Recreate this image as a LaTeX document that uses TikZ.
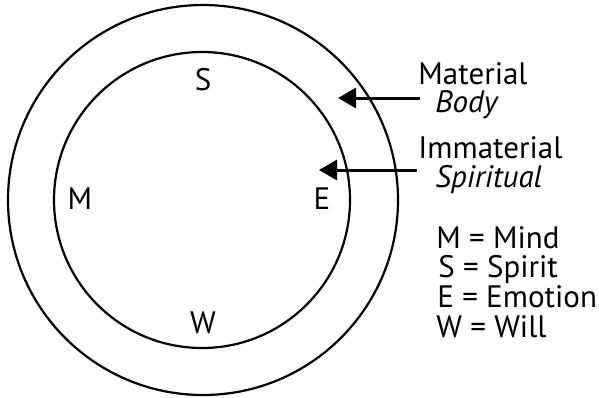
\documentclass[tikz,border=0pt]{standalone}
\usepackage{fontspec}
\setmainfont{PT Sans}
\usetikzlibrary{arrows.meta}
\begin{document}
\begin{tikzpicture}[x=0.5pt,y=-0.5pt]
	\tikzstyle{every node}+=[inner sep=0pt, anchor=base west, font=\fontsize{15.5}{15.5}\selectfont]
	\tikzstyle{ring}=[black, line width=1.1pt]
	\tikzstyle{pointer}=[black, line width=1.5pt, -{Triangle[length=9pt,width=10pt]}]
	\useasboundingbox (0,0) rectangle (599,397);
	% the two rings
	\draw [ring] (203,200) circle [radius=97.5pt];
	\draw [ring] (202,200) circle [radius=74pt];
	% letters in the inner ring
	\node (s) at (203,90) [anchor=base] {S};
	\node (m) at (80,209) [anchor=base] {M};
	\node (e) at (322,209) [anchor=base] {E};
	\node (w) at (203,333) [anchor=base] {W};
	% labels and pointers
	\node (material) at (418,84) {Material};
	\node (body) at (435,112) {\itshape Body};
	\node (immaterial) at (418,158) {Immaterial};
	\node (spiritual) at (435,187) {\itshape Spiritual};
	\coordinate (bodytip) at (338,98);
	\coordinate (spirittip) at (319,170);
	\draw [pointer] (body.north west |- bodytip) ++(-15,0) coordinate (bodytail) -- (bodytip);
	\draw [pointer] (spiritual.north west |- spirittip) ++(-18,0) coordinate (spirittail) -- (spirittip);
	% legend
	\node (keym) at (436,248) {M = Mind};
	\node (keys) at (438,277) {S = Spirit};
	\node (keye) at (437,307) {E = Emotion};
	\node (keyw) at (436,337) {W = Will};
\end{tikzpicture}
\end{document}
